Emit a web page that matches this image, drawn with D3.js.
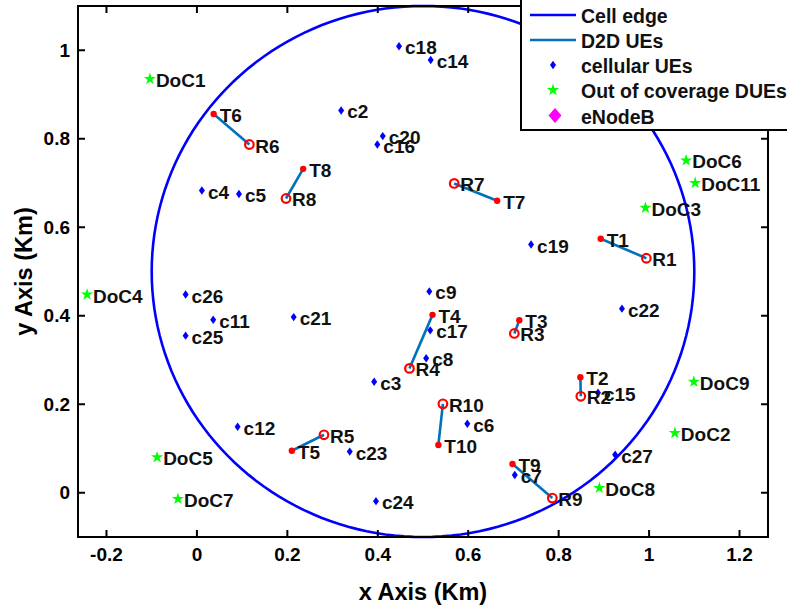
<!DOCTYPE html>
<html><head><meta charset="utf-8">
<script src="https://cdn.jsdelivr.net/npm/d3@7"></script>
<style>body{margin:0;background:#fff}svg{display:block}text{font-family:"Liberation Sans",Arial,sans-serif;font-weight:bold}</style>
</head><body><svg id="c" width="787" height="610"></svg>
<script>
// cellular UEs
const cellNames=["c2","c3","c4","c5","c6","c7","c8","c9","c11","c12","c14","c15","c16","c17","c18","c19","c20","c21","c22","c23","c24","c25","c26","c27"];
const cellX=[0.319,0.392,0.011,0.093,0.598,0.703,0.507,0.514,0.036,0.090,0.517,0.887,0.399,0.516,0.447,0.739,0.411,0.214,0.940,0.338,0.396,-0.025,-0.025,0.925];
const cellY=[0.864,0.251,0.683,0.675,0.156,0.040,0.304,0.455,0.391,0.149,0.978,0.226,0.787,0.367,1.009,0.561,0.806,0.397,0.416,0.093,-0.019,0.355,0.448,0.086];
// out of coverage DUEs
const docNames=["DoC1","DoC2","DoC3","DoC4","DoC5","DoC6","DoC7","DoC8","DoC9","DoC11"];
const docX=[-0.104,1.057,0.992,-0.243,-0.088,1.082,-0.042,0.890,1.099,1.102];
const docY=[0.935,0.135,0.644,0.448,0.080,0.751,-0.014,0.011,0.251,0.700];
// D2D pairs
const txNames=["T1","T2","T3","T4","T5","T6","T7","T8","T9","T10"];
const txX=[0.893,0.848,0.713,0.521,0.210,0.037,0.664,0.235,0.698,0.534];
const txY=[0.574,0.261,0.390,0.402,0.095,0.856,0.660,0.732,0.065,0.108];
const rxNames=["R1","R2","R3","R4","R5","R6","R7","R8","R9","R10"];
const rxX=[0.994,0.849,0.702,0.470,0.281,0.116,0.569,0.197,0.786,0.544];
const rxY=[0.530,0.218,0.360,0.281,0.131,0.787,0.699,0.665,-0.012,0.201];
// cell
const cellCenter=[0.5,0.5], cellRadius=0.6;
const xTicks=[-0.2,0,0.2,0.4,0.6,0.8,1,1.2];
const yTicks=[0,0.2,0.4,0.6,0.8,1];
const legendLabels=["Cell edge","D2D UEs","cellular UEs","Out of coverage DUEs","eNodeB"];

const svg=d3.select("#c");
const L=78,R=768,T=6,B=537;
const x=d3.scaleLinear().domain([-0.263,1.263]).range([L,R]);
const y=d3.scaleLinear().domain([-0.1,1.1]).range([B,T]);
const FS=19, LFS=19.5;

function diamondPath(w,h){return `M0,${-h}L${w},0L0,${h}L${-w},0Z`;}

const g=svg.append("g");
// cell edge circle
const angles=d3.range(0,361,2).map(a=>a*Math.PI/180);
g.append("path").datum(angles)
 .attr("d",d3.line().x(a=>x(cellCenter[0]+cellRadius*Math.cos(a))).y(a=>y(cellCenter[1]+cellRadius*Math.sin(a))))
 .attr("fill","none").attr("stroke","#0000ff").attr("stroke-width",2.6);

// D2D lines
txNames.forEach((n,i)=>{
  g.append("line").attr("x1",x(txX[i])).attr("y1",y(txY[i])).attr("x2",x(rxX[i])).attr("y2",y(rxY[i]))
   .attr("stroke","#0072BD").attr("stroke-width",2.6);
});
txNames.forEach((n,i)=>{
  g.append("circle").attr("cx",x(txX[i])).attr("cy",y(txY[i])).attr("r",3.2).attr("fill","#ff0000");
});
rxNames.forEach((n,i)=>{
  g.append("circle").attr("cx",x(rxX[i])).attr("cy",y(rxY[i])).attr("r",4.3).attr("fill","none").attr("stroke","#ff0000").attr("stroke-width",2.2);
});
cellNames.forEach((n,i)=>{
  g.append("path").attr("d",diamondPath(3,4.2)).attr("transform",`translate(${x(cellX[i])},${y(cellY[i])})`).attr("fill","#0000ff");
});
const star=d3.symbol().type(d3.symbolStar).size(46);
docNames.forEach((n,i)=>{
  g.append("path").attr("d",star()).attr("transform",`translate(${x(docX[i])},${y(docY[i])})`).attr("fill","#00ff00");
});
function lab(names,xs,ys){
  names.forEach((n,i)=>{
    g.append("text").attr("x",x(xs[i])+6).attr("y",y(ys[i])+1.5).attr("dominant-baseline","central")
     .attr("font-size",FS).attr("fill","#111").text(n);
  });
}
lab(cellNames,cellX,cellY);lab(docNames,docX,docY);lab(txNames,txX,txY);lab(rxNames,rxX,rxY);

// axes box
const ax=svg.append("g");
ax.append("rect").attr("x",L).attr("y",T).attr("width",R-L).attr("height",B-T).attr("fill","none").attr("stroke","#000").attr("stroke-width",2);
xTicks.forEach(t=>{
  ax.append("line").attr("x1",x(t)).attr("x2",x(t)).attr("y1",B).attr("y2",B-7).attr("stroke","#000").attr("stroke-width",2);
  ax.append("line").attr("x1",x(t)).attr("x2",x(t)).attr("y1",T).attr("y2",T+7).attr("stroke","#000").attr("stroke-width",2);
  ax.append("text").attr("x",x(t)).attr("y",B+17).attr("text-anchor","middle").attr("dominant-baseline","central").attr("font-size",19).text(t);
});
yTicks.forEach(t=>{
  ax.append("line").attr("x1",L).attr("x2",L+7).attr("y1",y(t)).attr("y2",y(t)).attr("stroke","#000").attr("stroke-width",2);
  ax.append("line").attr("x1",R).attr("x2",R-7).attr("y1",y(t)).attr("y2",y(t)).attr("stroke","#000").attr("stroke-width",2);
  ax.append("text").attr("x",L-8).attr("y",y(t)).attr("text-anchor","end").attr("dominant-baseline","central").attr("font-size",19).text(t);
});
ax.append("text").attr("x",(L+R)/2).attr("y",592).attr("text-anchor","middle").attr("dominant-baseline","central").attr("font-size",23.5).text("x Axis (Km)");
ax.append("text").attr("transform",`translate(24,${(T+B)/2}) rotate(-90)`).attr("text-anchor","middle").attr("dominant-baseline","central").attr("font-size",23.5).text("y Axis (Km)");

// legend
const lg=svg.append("g");
lg.append("rect").attr("x",521).attr("y",-5).attr("width",290).attr("height",135).attr("fill","#fff").attr("stroke","#000").attr("stroke-width",2);
const rowY=[15,40,65,90,115.5];
lg.append("line").attr("x1",530).attr("x2",576).attr("y1",rowY[0]).attr("y2",rowY[0]).attr("stroke","#0000ff").attr("stroke-width",2.6);
lg.append("line").attr("x1",530).attr("x2",576).attr("y1",rowY[1]).attr("y2",rowY[1]).attr("stroke","#0072BD").attr("stroke-width",2.6);
lg.append("path").attr("d",diamondPath(3,4.2)).attr("transform",`translate(553,${rowY[2]})`).attr("fill","#0000ff");
lg.append("path").attr("d",star()).attr("transform",`translate(553,${rowY[3]})`).attr("fill","#00ff00");
lg.append("path").attr("d",diamondPath(6.5,7.5)).attr("transform",`translate(555,${rowY[4]})`).attr("fill","#ff00ff");
legendLabels.forEach((s,i)=>{
  lg.append("text").attr("x",581).attr("y",rowY[i]+1).attr("dominant-baseline","central").attr("font-size",LFS).attr("fill","#111").text(s);
});
</script></body></html>
